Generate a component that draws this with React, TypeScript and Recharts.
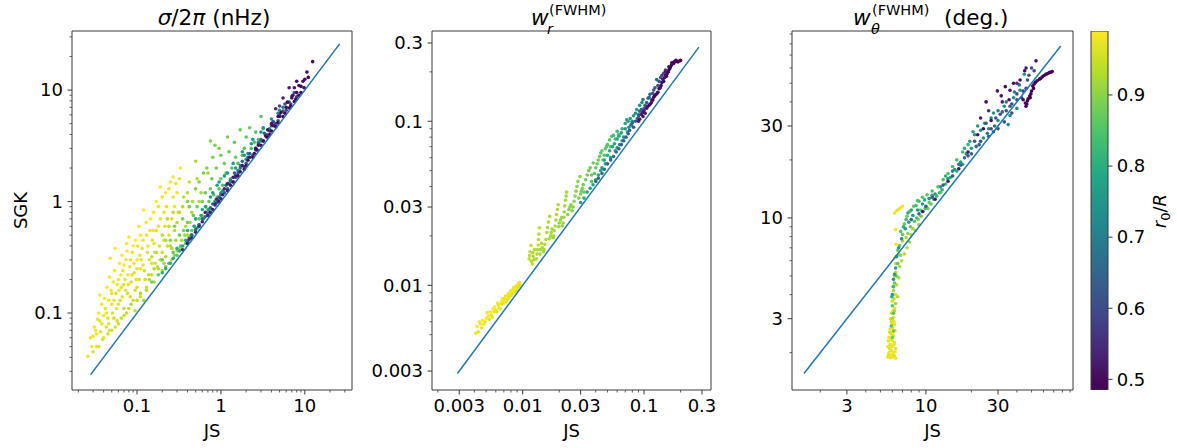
import React from "react";
import { ScatterChart, Scatter, XAxis, YAxis, ReferenceArea, BarChart, Bar } from "recharts";

const FONT = "'DejaVu Sans', sans-serif";
const AXIS = "#3a3a3a";
const DIAG = "#1f77b4";

// colour range of r0/R (colorbar limits)
const C_MIN = 0.485;
const C_MAX = 0.99;
const VIRIDIS = [
  "#440154", "#482475", "#414487", "#355f8d", "#2a788e", "#21918c",
  "#22a884", "#44bf70", "#7ad151", "#bddf26", "#fde725",
];

function hexToRgb(h: string) {
  return [1, 3, 5].map((i) => parseInt(h.slice(i, i + 2), 16));
}

function viridis(c: number) {
  let t = (c - C_MIN) / (C_MAX - C_MIN);
  t = Math.max(0, Math.min(1, t));
  const pos = t * (VIRIDIS.length - 1);
  const i = Math.min(Math.floor(pos), VIRIDIS.length - 2);
  const f = pos - i;
  const a = hexToRgb(VIRIDIS[i]);
  const b = hexToRgb(VIRIDIS[i + 1]);
  const m = a.map((v, k) => Math.round(v + (b[k] - v) * f));
  return `rgb(${m[0]},${m[1]},${m[2]})`;
}

// ---- sigma/2pi (nHz): [JS, SGK, r0/R] ----
const sigmaYellow: number[][] = [
  [0.026, 0.041, 0.98], [0.029, 0.05, 0.99], [0.03, 0.062, 0.98], [0.031, 0.075, 0.99], [0.033, 0.05, 0.97],
  [0.034, 0.088, 0.98], [0.035, 0.1, 0.99], [0.036, 0.145, 0.99], [0.037, 0.068, 0.97], [0.038, 0.12, 0.98],
  [0.039, 0.058, 0.96], [0.04, 0.095, 0.98], [0.041, 0.135, 0.99], [0.042, 0.11, 0.97], [0.043, 0.075, 0.96],
  [0.044, 0.17, 0.99], [0.045, 0.09, 0.97], [0.046, 0.13, 0.98], [0.047, 0.21, 0.99], [0.048, 0.31, 0.99],
  [0.049, 0.16, 0.98], [0.05, 0.12, 0.97], [0.051, 0.1, 0.96], [0.052, 0.19, 0.98], [0.054, 0.24, 0.99],
  [0.055, 0.38, 0.99], [0.056, 0.15, 0.97], [0.058, 0.085, 0.95], [0.06, 0.2, 0.98], [0.062, 0.28, 0.99],
  [0.063, 0.13, 0.96], [0.065, 0.17, 0.97], [0.066, 0.33, 0.99], [0.068, 0.24, 0.98], [0.07, 0.11, 0.95],
  [0.072, 0.2, 0.97], [0.074, 0.3, 0.98], [0.075, 0.42, 0.99], [0.077, 0.15, 0.96], [0.08, 0.48, 0.99],
  [0.082, 0.26, 0.98], [0.085, 0.19, 0.96], [0.088, 0.35, 0.98], [0.09, 0.13, 0.95], [0.093, 0.23, 0.97],
  [0.096, 0.45, 0.99], [0.1, 0.3, 0.98], [0.1, 0.17, 0.96], [0.105, 0.6, 0.99], [0.11, 0.25, 0.97],
  [0.115, 0.38, 0.98], [0.12, 0.84, 0.99], [0.125, 0.2, 0.95], [0.13, 0.5, 0.98], [0.14, 0.3, 0.97],
  [0.145, 0.7, 0.99], [0.15, 0.22, 0.95], [0.16, 0.42, 0.97], [0.17, 1.0, 0.99], [0.18, 0.6, 0.98],
  [0.19, 1.35, 0.99], [0.2, 0.35, 0.96], [0.21, 0.8, 0.98], [0.22, 1.2, 0.99], [0.24, 0.5, 0.97],
  [0.25, 1.5, 0.99], [0.27, 1.66, 0.99], [0.28, 0.9, 0.98], [0.3, 1.2, 0.98], [0.33, 2.0, 0.99],
  [0.13, 0.17, 0.95], [0.11, 0.14, 0.95], [0.032, 0.07, 0.98], [0.036, 0.085, 0.97], [0.047, 0.07, 0.96],
  [0.053, 0.09, 0.96], [0.057, 0.11, 0.97], [0.061, 0.16, 0.98], [0.069, 0.18, 0.97], [0.078, 0.22, 0.98],
  [0.083, 0.14, 0.96], [0.092, 0.28, 0.98], [0.098, 0.2, 0.97], [0.108, 0.33, 0.98], [0.118, 0.27, 0.97],
  [0.135, 0.4, 0.98], [0.155, 0.55, 0.98], [0.165, 0.28, 0.96], [0.23, 0.7, 0.98],
  [0.035, 0.05, 0.97], [0.04, 0.06, 0.97], [0.045, 0.065, 0.96], [0.05, 0.07, 0.96], [0.055, 0.075, 0.95],
  [0.06, 0.08, 0.95], [0.065, 0.09, 0.95], [0.07, 0.095, 0.95], [0.075, 0.1, 0.95], [0.08, 0.11, 0.95],
  [0.03, 0.045, 0.97], [0.028, 0.06, 0.98], [0.033, 0.065, 0.98], [0.038, 0.08, 0.98], [0.043, 0.1, 0.98],
  [0.046, 0.08, 0.97], [0.05, 0.15, 0.98], [0.053, 0.13, 0.98], [0.058, 0.18, 0.98], [0.06, 0.12, 0.97],
  [0.064, 0.22, 0.99], [0.067, 0.14, 0.97], [0.07, 0.27, 0.99], [0.073, 0.16, 0.97], [0.076, 0.36, 0.99],
  [0.079, 0.18, 0.97], [0.084, 0.3, 0.98], [0.087, 0.22, 0.97], [0.09, 0.4, 0.99], [0.095, 0.16, 0.96],
  [0.1, 0.25, 0.97], [0.102, 0.4, 0.98], [0.106, 0.2, 0.96], [0.11, 0.5, 0.99], [0.112, 0.3, 0.97],
  [0.118, 0.45, 0.98], [0.122, 0.24, 0.96], [0.128, 0.65, 0.99], [0.133, 0.35, 0.97], [0.138, 0.22, 0.95],
  [0.142, 0.55, 0.98], [0.15, 0.28, 0.96], [0.152, 0.45, 0.97], [0.158, 0.8, 0.99], [0.163, 0.35, 0.96],
  [0.17, 0.55, 0.97], [0.175, 0.26, 0.95], [0.18, 0.9, 0.98], [0.185, 0.4, 0.96], [0.19, 0.7, 0.97],
  [0.2, 1.1, 0.98], [0.21, 0.45, 0.96], [0.215, 0.6, 0.97], [0.225, 0.9, 0.97], [0.23, 0.4, 0.95],
  [0.24, 1.3, 0.98], [0.26, 0.7, 0.96], [0.27, 1.1, 0.97], [0.29, 1.45, 0.98], [0.31, 0.8, 0.96],
  [0.32, 1.6, 0.98],
];
const sigmaYellowGreen: number[][] = [
  [0.085, 0.12, 0.93], [0.095, 0.105, 0.94], [0.11, 0.15, 0.93], [0.12, 0.13, 0.92], [0.14, 0.2, 0.93],
  [0.15, 0.32, 0.94], [0.16, 0.19, 0.92], [0.18, 0.25, 0.93], [0.2, 0.5, 0.94], [0.2, 0.24, 0.92],
  [0.22, 0.32, 0.93], [0.23, 0.7, 0.94], [0.25, 0.4, 0.93], [0.26, 0.3, 0.92], [0.28, 0.55, 0.93],
  [0.3, 0.36, 0.92], [0.32, 0.8, 0.94], [0.34, 0.45, 0.93], [0.36, 1.1, 0.94], [0.38, 0.6, 0.93],
  [0.4, 0.5, 0.92], [0.42, 1.5, 0.94], [0.45, 0.8, 0.93], [0.48, 0.6, 0.92], [0.5, 2.3, 0.93],
  [0.55, 1.0, 0.93], [0.6, 0.75, 0.92],
  [0.1, 0.13, 0.94], [0.13, 0.16, 0.93], [0.16, 0.25, 0.93], [0.17, 0.35, 0.94], [0.19, 0.3, 0.93],
  [0.21, 0.28, 0.92], [0.22, 0.45, 0.93], [0.24, 0.6, 0.94], [0.26, 0.38, 0.92], [0.27, 0.8, 0.94],
  [0.29, 0.45, 0.92], [0.3, 0.65, 0.93], [0.33, 0.38, 0.91], [0.35, 0.9, 0.93], [0.37, 0.5, 0.92],
  [0.4, 1.2, 0.93], [0.43, 0.65, 0.92], [0.46, 1.0, 0.92], [0.5, 0.7, 0.91], [0.52, 1.6, 0.93],
  [0.58, 1.2, 0.92], [0.65, 0.9, 0.91], [0.7, 1.8, 0.92], [0.28, 0.33, 0.91], [0.4, 0.44, 0.91],
];
const sigmaGreen: number[][] = [
  [0.15, 0.19, 0.88], [0.18, 0.22, 0.87], [0.2, 0.3, 0.88], [0.24, 0.28, 0.86], [0.25, 0.45, 0.89],
  [0.3, 0.33, 0.86], [0.32, 0.5, 0.88], [0.35, 0.7, 0.89], [0.38, 0.42, 0.86], [0.42, 0.9, 0.88],
  [0.45, 0.55, 0.87], [0.5, 1.3, 0.89], [0.55, 0.7, 0.86], [0.6, 1.0, 0.88], [0.62, 1.8, 0.89],
  [0.7, 0.85, 0.86], [0.75, 1.3, 0.88], [0.8, 2.5, 0.89], [0.85, 3.2, 0.89], [0.9, 1.1, 0.86],
  [1.0, 1.6, 0.87], [1.1, 2.2, 0.88], [1.2, 3.8, 0.89], [1.3, 1.6, 0.86], [1.5, 2.5, 0.87],
  [1.7, 4.4, 0.88], [1.9, 3.0, 0.86], [2.2, 4.6, 0.87], [2.5, 3.4, 0.85], [3.0, 5.8, 0.86],
  [0.22, 0.26, 0.88], [0.27, 0.35, 0.87], [0.28, 0.6, 0.89], [0.33, 0.4, 0.87], [0.36, 0.55, 0.88],
  [0.4, 0.65, 0.88], [0.4, 1.0, 0.89], [0.44, 0.5, 0.86], [0.47, 0.75, 0.87], [0.52, 0.9, 0.88],
  [0.55, 1.5, 0.89], [0.6, 0.7, 0.86], [0.65, 1.2, 0.87], [0.68, 2.0, 0.89], [0.72, 1.0, 0.86],
  [0.78, 1.6, 0.87], [0.82, 1.15, 0.85], [0.88, 2.0, 0.88], [0.95, 1.3, 0.85], [1.0, 2.6, 0.88],
  [1.05, 1.4, 0.85], [1.15, 1.8, 0.86], [1.25, 2.8, 0.87], [1.35, 2.0, 0.85], [1.45, 3.4, 0.87],
  [1.6, 2.2, 0.85], [1.8, 2.6, 0.85], [2.0, 3.8, 0.86], [2.3, 3.0, 0.84], [2.6, 4.2, 0.85],
  [2.8, 3.6, 0.84], [3.2, 4.5, 0.84], [0.75, 3.5, 0.9], [0.95, 3.0, 0.89],
];
const sigmaTeal: number[][] = [
  [0.2, 0.23, 0.8], [0.25, 0.28, 0.79], [0.3, 0.38, 0.8], [0.35, 0.4, 0.78], [0.4, 0.55, 0.8],
  [0.45, 0.5, 0.77], [0.5, 0.7, 0.79], [0.55, 0.62, 0.76], [0.6, 0.85, 0.79], [0.7, 0.8, 0.76],
  [0.75, 1.1, 0.78], [0.85, 1.0, 0.75], [0.9, 1.4, 0.78], [1.0, 1.2, 0.75], [1.1, 1.7, 0.77],
  [1.3, 1.5, 0.74], [1.4, 2.2, 0.77], [1.6, 1.9, 0.74], [1.8, 2.8, 0.77], [2.0, 2.4, 0.74],
  [2.3, 3.3, 0.76], [2.6, 3.0, 0.73], [3.0, 4.2, 0.75], [3.5, 4.0, 0.72], [4.0, 5.5, 0.74],
  [4.5, 5.0, 0.72], [5.0, 6.6, 0.73],
  [0.22, 0.25, 0.8], [0.27, 0.31, 0.79], [0.32, 0.36, 0.79], [0.38, 0.45, 0.78], [0.42, 0.47, 0.77],
  [0.48, 0.6, 0.78], [0.52, 0.58, 0.76], [0.58, 0.75, 0.78], [0.62, 0.7, 0.76], [0.66, 0.9, 0.78],
  [0.72, 0.85, 0.75], [0.8, 1.2, 0.77], [0.88, 1.05, 0.75], [0.95, 1.5, 0.77], [1.05, 1.25, 0.74],
  [1.2, 1.8, 0.76], [1.25, 1.45, 0.74], [1.5, 2.0, 0.75], [1.7, 2.1, 0.74], [1.9, 2.6, 0.75],
  [2.1, 2.7, 0.74], [2.4, 3.6, 0.75], [2.8, 3.4, 0.73], [3.2, 4.6, 0.74], [3.8, 4.5, 0.72],
  [4.2, 5.2, 0.73], [4.8, 6.2, 0.72], [5.5, 7.0, 0.71], [3.0, 3.5, 0.72], [2.2, 2.5, 0.73],
];
const sigmaBlue: number[][] = [
  [0.4, 0.44, 0.66], [0.5, 0.56, 0.65], [0.6, 0.7, 0.67], [0.7, 0.76, 0.64], [0.8, 0.95, 0.66],
  [0.9, 0.98, 0.63], [1.0, 1.15, 0.65], [1.2, 1.3, 0.63], [1.3, 1.55, 0.66], [1.5, 1.65, 0.62],
  [1.7, 2.0, 0.65], [2.0, 2.2, 0.62], [2.2, 2.7, 0.64], [2.6, 2.9, 0.61], [3.0, 3.6, 0.64],
  [3.5, 3.8, 0.6], [4.0, 4.8, 0.63], [4.5, 5.0, 0.6], [5.0, 6.0, 0.62], [6.0, 6.6, 0.6],
  [6.5, 7.8, 0.62], [7.0, 8.8, 0.61],
  [0.45, 0.5, 0.66], [0.55, 0.62, 0.66], [0.65, 0.73, 0.65], [0.75, 0.88, 0.65], [0.85, 0.93, 0.64],
  [0.95, 1.1, 0.65], [1.1, 1.2, 0.63], [1.15, 1.4, 0.65], [1.4, 1.5, 0.62], [1.45, 1.8, 0.64],
  [1.6, 1.8, 0.62], [1.8, 2.3, 0.64], [1.9, 2.05, 0.61], [2.1, 2.5, 0.63], [2.4, 2.6, 0.6],
  [2.8, 3.3, 0.62], [3.2, 3.5, 0.6], [3.3, 4.1, 0.63], [3.8, 4.3, 0.6], [4.2, 5.2, 0.62],
  [4.8, 5.3, 0.59], [5.5, 6.5, 0.61], [5.8, 7.5, 0.62], [6.8, 7.5, 0.59], [7.5, 9.5, 0.6],
  [8.0, 8.7, 0.58], [5.0, 7.2, 0.6],
];
const sigmaPurple: number[][] = [
  [0.5, 0.53, 0.54], [0.6, 0.66, 0.53], [0.65, 0.8, 0.55], [0.8, 0.85, 0.52], [0.9, 1.05, 0.54],
  [1.0, 1.06, 0.51], [1.1, 1.3, 0.54], [1.3, 1.4, 0.51], [1.5, 1.7, 0.53], [1.6, 1.7, 0.5],
  [1.8, 2.1, 0.53], [2.0, 2.1, 0.5], [2.2, 2.5, 0.52], [2.5, 2.7, 0.5], [2.8, 3.2, 0.52],
  [3.0, 3.2, 0.49], [3.4, 3.9, 0.52], [3.8, 4.0, 0.49], [4.2, 4.8, 0.51], [4.5, 4.7, 0.49],
  [5.0, 5.8, 0.51], [5.5, 5.8, 0.49], [6.0, 7.0, 0.51], [6.5, 6.9, 0.49], [7.0, 8.5, 0.51],
  [7.5, 7.9, 0.49], [8.0, 9.5, 0.5], [8.5, 11, 0.51], [9.0, 9.5, 0.49], [9.5, 12, 0.5],
  [10.6, 14.5, 0.5], [12.4, 18.0, 0.5], [6.5, 10.5, 0.52], [5.5, 8.5, 0.53], [4.5, 6.8, 0.54],
  [0.55, 0.6, 0.54], [0.7, 0.75, 0.53], [0.75, 0.8, 0.52], [0.85, 0.95, 0.53], [0.95, 1.0, 0.51],
  [1.05, 1.15, 0.52], [1.2, 1.25, 0.5], [1.2, 1.45, 0.53], [1.4, 1.5, 0.5], [1.4, 1.65, 0.53],
  [1.7, 1.85, 0.51], [1.9, 1.95, 0.49], [2.1, 2.35, 0.51], [2.4, 2.5, 0.49], [2.6, 3.0, 0.51],
  [2.7, 2.9, 0.49], [3.2, 3.5, 0.5], [3.6, 3.8, 0.49], [3.6, 4.4, 0.51], [4.0, 4.3, 0.49],
  [4.0, 5.0, 0.51], [4.8, 5.1, 0.49], [4.8, 5.8, 0.5], [5.2, 6.3, 0.5], [5.8, 6.2, 0.49],
  [6.2, 7.8, 0.5], [6.8, 7.2, 0.49], [7.2, 9.0, 0.5], [7.8, 8.3, 0.49], [8.5, 9.0, 0.49],
  [9.0, 10.8, 0.5], [9.8, 10.5, 0.49], [10.0, 12.5, 0.5], [11.0, 13.0, 0.5], [7.5, 10.5, 0.51],
  [8.0, 12.0, 0.5], [0.35, 0.37, 0.53], [0.4, 0.42, 0.52], [0.45, 0.47, 0.53], [0.42, 0.46, 0.55],
];

// ---- w_r (FWHM): [JS, SGK, r0/R] ----
const wrYellow: number[][] = [
  [0.0041, 0.0051, 0.98], [0.0042, 0.0056, 0.99], [0.0044, 0.006, 0.98], [0.0046, 0.0055, 0.97], [0.0048, 0.0058, 0.98],
  [0.005, 0.0063, 0.99], [0.0051, 0.0068, 0.98], [0.0053, 0.0062, 0.97], [0.0055, 0.0066, 0.98], [0.0057, 0.0072, 0.99],
  [0.0058, 0.0069, 0.97], [0.006, 0.0071, 0.98], [0.0062, 0.0078, 0.99], [0.0064, 0.0073, 0.97], [0.0066, 0.0077, 0.98],
  [0.0068, 0.0083, 0.99], [0.007, 0.0079, 0.97], [0.0072, 0.0086, 0.98], [0.0074, 0.0082, 0.97], [0.0076, 0.0089, 0.98],
  [0.0078, 0.0086, 0.97], [0.008, 0.0093, 0.98], [0.0082, 0.0089, 0.97], [0.0084, 0.0097, 0.98], [0.0086, 0.0092, 0.97],
  [0.0088, 0.0099, 0.98], [0.009, 0.0096, 0.97], [0.0092, 0.0102, 0.98], [0.0094, 0.0104, 0.98], [0.0093, 0.0098, 0.97],
  [0.0043, 0.0052, 0.97], [0.0045, 0.0058, 0.98], [0.0047, 0.0061, 0.99], [0.0049, 0.006, 0.98], [0.0052, 0.0065, 0.98],
  [0.0054, 0.0069, 0.99], [0.0056, 0.0064, 0.97], [0.0059, 0.0074, 0.99], [0.0061, 0.0069, 0.97], [0.0063, 0.0076, 0.98],
  [0.0065, 0.0072, 0.97], [0.0067, 0.008, 0.99], [0.0069, 0.0077, 0.97], [0.0071, 0.0083, 0.98], [0.0073, 0.0079, 0.97],
  [0.0075, 0.0086, 0.98], [0.0077, 0.0083, 0.97], [0.0079, 0.009, 0.98], [0.0081, 0.0087, 0.97], [0.0083, 0.0094, 0.98],
  [0.0085, 0.009, 0.97], [0.0087, 0.0096, 0.98], [0.0089, 0.0093, 0.97], [0.0091, 0.01, 0.98], [0.0095, 0.0101, 0.97],
];
const wrYellowGreen: number[][] = [
  [0.0113, 0.0145, 0.94], [0.0115, 0.016, 0.94], [0.0117, 0.0175, 0.94], [0.012, 0.0135, 0.93], [0.0122, 0.015, 0.93], [0.0125, 0.0165, 0.93],
  [0.013, 0.0145, 0.93], [0.0132, 0.0165, 0.93], [0.0135, 0.019, 0.94], [0.0137, 0.0224, 0.94], [0.014, 0.0165, 0.92], [0.0143, 0.018, 0.93],
  [0.015, 0.0165, 0.92], [0.0155, 0.019, 0.93], [0.016, 0.0225, 0.93], [0.0167, 0.0263, 0.93], [0.017, 0.02, 0.92], [0.0175, 0.022, 0.92],
  [0.018, 0.02, 0.92], [0.0185, 0.023, 0.92], [0.019, 0.027, 0.93], [0.0196, 0.031, 0.93], [0.02, 0.024, 0.91], [0.021, 0.026, 0.91],
  [0.0215, 0.024, 0.91], [0.022, 0.028, 0.91], [0.0225, 0.033, 0.92], [0.023, 0.037, 0.92], [0.024, 0.029, 0.9], [0.025, 0.031, 0.9],
  [0.026, 0.03, 0.89], [0.027, 0.035, 0.9], [0.028, 0.04, 0.9], [0.0296, 0.046, 0.9], [0.03, 0.036, 0.89], [0.031, 0.039, 0.89],
  [0.0114, 0.0152, 0.94], [0.0118, 0.014, 0.93], [0.0121, 0.0158, 0.93], [0.0124, 0.0143, 0.92], [0.0131, 0.0155, 0.93],
  [0.0134, 0.0176, 0.94], [0.0136, 0.0205, 0.94], [0.0139, 0.0155, 0.92], [0.0145, 0.017, 0.93], [0.0148, 0.016, 0.92],
  [0.0152, 0.0178, 0.93], [0.0158, 0.021, 0.93], [0.0163, 0.0243, 0.93], [0.0165, 0.0192, 0.92], [0.0172, 0.021, 0.92],
  [0.0178, 0.0195, 0.91], [0.0182, 0.0215, 0.92], [0.0188, 0.025, 0.92], [0.0193, 0.029, 0.93], [0.0198, 0.0228, 0.91],
  [0.0205, 0.025, 0.91], [0.0212, 0.023, 0.9], [0.0218, 0.026, 0.91], [0.0222, 0.0305, 0.92], [0.0228, 0.035, 0.92],
  [0.0235, 0.027, 0.9], [0.0245, 0.03, 0.9], [0.0255, 0.0285, 0.89], [0.0265, 0.0325, 0.9], [0.0275, 0.0375, 0.9],
  [0.0285, 0.043, 0.9], [0.029, 0.034, 0.89], [0.0305, 0.0375, 0.88],
];
const wrGreen: number[][] = [
  [0.032, 0.037, 0.87], [0.033, 0.044, 0.88], [0.035, 0.05, 0.88], [0.0381, 0.0557, 0.88], [0.037, 0.043, 0.86],
  [0.039, 0.048, 0.86], [0.04, 0.052, 0.87], [0.042, 0.058, 0.87], [0.044, 0.064, 0.86], [0.046, 0.058, 0.85],
  [0.048, 0.068, 0.86], [0.05, 0.072, 0.85], [0.0541, 0.081, 0.85],
  [0.0315, 0.041, 0.88], [0.034, 0.047, 0.88], [0.036, 0.052, 0.88], [0.037, 0.047, 0.87], [0.041, 0.055, 0.87],
  [0.043, 0.061, 0.87], [0.045, 0.066, 0.87], [0.047, 0.062, 0.85], [0.049, 0.07, 0.86], [0.052, 0.077, 0.86],
  [0.053, 0.07, 0.84], [0.056, 0.082, 0.84], [0.058, 0.078, 0.83], [0.06, 0.087, 0.83], [0.062, 0.083, 0.82],
];
const wrTeal: number[][] = [
  [0.03, 0.032, 0.78], [0.034, 0.037, 0.78], [0.038, 0.041, 0.77], [0.042, 0.047, 0.78], [0.045, 0.052, 0.79],
  [0.048, 0.055, 0.77], [0.05, 0.062, 0.79], [0.053, 0.06, 0.76], [0.055, 0.07, 0.79], [0.058, 0.066, 0.76],
  [0.06, 0.078, 0.78], [0.063, 0.072, 0.75], [0.065, 0.085, 0.78], [0.068, 0.08, 0.75], [0.072, 0.102, 0.77],
  [0.07, 0.09, 0.76], [0.075, 0.092, 0.74], [0.08, 0.1, 0.75], [0.085, 0.112, 0.75], [0.09, 0.11, 0.73],
  [0.032, 0.034, 0.79], [0.036, 0.039, 0.78], [0.04, 0.044, 0.78], [0.044, 0.05, 0.78], [0.047, 0.058, 0.79],
  [0.052, 0.066, 0.79], [0.057, 0.073, 0.79], [0.062, 0.081, 0.79], [0.066, 0.09, 0.8], [0.07, 0.097, 0.79],
  [0.074, 0.1, 0.78], [0.077, 0.104, 0.77], [0.082, 0.108, 0.76], [0.087, 0.118, 0.76], [0.092, 0.125, 0.75],
  [0.096, 0.13, 0.74], [0.06, 0.069, 0.76], [0.066, 0.076, 0.75], [0.073, 0.086, 0.74], [0.079, 0.095, 0.73],
];
const wrBlue: number[][] = [
  [0.04, 0.043, 0.66], [0.045, 0.048, 0.66], [0.05, 0.055, 0.65], [0.056, 0.061, 0.65], [0.062, 0.068, 0.64],
  [0.068, 0.076, 0.64], [0.074, 0.084, 0.63], [0.078, 0.095, 0.66], [0.082, 0.092, 0.62], [0.088, 0.104, 0.64],
  [0.092, 0.115, 0.66], [0.098, 0.1355, 0.68], [0.1, 0.12, 0.64], [0.105, 0.13, 0.64], [0.11, 0.14, 0.65],
  [0.115, 0.135, 0.62], [0.12, 0.155, 0.63], [0.127, 0.1795, 0.66], [0.13, 0.165, 0.62], [0.14, 0.19, 0.6],
  [0.042, 0.045, 0.66], [0.047, 0.051, 0.66], [0.053, 0.058, 0.65], [0.059, 0.065, 0.65], [0.065, 0.072, 0.64],
  [0.071, 0.08, 0.64], [0.076, 0.088, 0.64], [0.08, 0.098, 0.65], [0.085, 0.1, 0.63], [0.09, 0.108, 0.63],
  [0.095, 0.118, 0.63], [0.102, 0.125, 0.63], [0.108, 0.138, 0.64], [0.112, 0.146, 0.65], [0.118, 0.148, 0.62],
  [0.123, 0.16, 0.62], [0.133, 0.175, 0.62], [0.137, 0.185, 0.6], [0.145, 0.196, 0.59], [0.15, 0.205, 0.58],
];
const wrPurple: number[][] = [
  [0.09, 0.1, 0.53], [0.095, 0.11, 0.53], [0.098, 0.107, 0.52], [0.1, 0.116, 0.52], [0.105, 0.12, 0.52],
  [0.11, 0.125, 0.51], [0.115, 0.13, 0.51], [0.12, 0.14, 0.51], [0.125, 0.145, 0.5], [0.13, 0.15, 0.5],
  [0.136, 0.16, 0.5], [0.14, 0.172, 0.52], [0.145, 0.175, 0.5], [0.15, 0.19, 0.51], [0.155, 0.195, 0.5],
  [0.16, 0.205, 0.5], [0.165, 0.215, 0.5], [0.169, 0.227, 0.51], [0.175, 0.225, 0.5], [0.18, 0.232, 0.5],
  [0.186, 0.232, 0.49], [0.19, 0.23, 0.49], [0.2, 0.235, 0.49], [0.15, 0.2, 0.53], [0.16, 0.215, 0.53],
  [0.092, 0.103, 0.52], [0.097, 0.113, 0.52], [0.102, 0.112, 0.51], [0.107, 0.123, 0.51], [0.112, 0.127, 0.5],
  [0.118, 0.135, 0.5], [0.122, 0.143, 0.5], [0.128, 0.148, 0.5], [0.133, 0.158, 0.5], [0.138, 0.165, 0.5],
  [0.143, 0.18, 0.51], [0.148, 0.185, 0.5], [0.153, 0.188, 0.49], [0.158, 0.2, 0.49], [0.163, 0.21, 0.49],
  [0.168, 0.22, 0.49], [0.172, 0.228, 0.5], [0.178, 0.23, 0.49], [0.183, 0.235, 0.49], [0.195, 0.233, 0.49],
];

// ---- w_theta (FWHM), deg.: [JS, SGK, r0/R] ----
const wthYellow: number[][] = [
  [5.6, 1.9, 0.97], [5.8, 1.88, 0.98], [6.0, 1.9, 0.98], [6.2, 1.92, 0.97], [6.3, 1.87, 0.98],
  [5.7, 2.0, 0.98], [5.9, 2.05, 0.97], [6.1, 2.0, 0.98], [6.3, 2.1, 0.97], [5.6, 2.15, 0.98],
  [5.8, 2.2, 0.97], [6.0, 2.3, 0.98], [6.2, 2.25, 0.97], [5.7, 2.4, 0.98], [5.9, 2.5, 0.96],
  [6.1, 2.45, 0.97], [5.8, 2.65, 0.97], [6.0, 2.7, 0.96], [6.2, 2.8, 0.97], [5.9, 2.9, 0.96],
  [6.1, 3.05, 0.97], [5.9, 3.2, 0.96], [6.2, 3.4, 0.97], [6.0, 3.7, 0.96], [6.3, 4.0, 0.96],
  [6.2, 6.2, 0.97], [6.35, 7.3, 0.98], [6.3, 8.7, 0.98], [6.2, 10.6, 0.98], [6.4, 10.9, 0.98],
  [6.6, 11.1, 0.98], [6.8, 11.3, 0.98], [7.0, 11.5, 0.98],
  [5.65, 1.95, 0.97], [5.85, 1.93, 0.98], [6.05, 1.96, 0.97], [6.25, 2.02, 0.98], [5.75, 2.1, 0.97],
  [5.95, 2.15, 0.98], [6.15, 2.2, 0.97], [5.65, 2.3, 0.97], [5.85, 2.35, 0.98], [6.05, 2.55, 0.97],
  [6.25, 2.6, 0.97], [5.75, 2.55, 0.96], [5.95, 2.8, 0.96], [6.15, 2.9, 0.97], [5.85, 3.0, 0.96],
  [6.05, 3.3, 0.96], [6.15, 3.8, 0.95], [6.05, 4.4, 0.95], [6.2, 5.0, 0.95], [6.3, 5.8, 0.95],
];
const wthYellowGreen: number[][] = [
  [6.0, 3.0, 0.92], [6.2, 3.3, 0.93], [6.3, 3.6, 0.92], [6.5, 3.9, 0.93], [6.1, 4.2, 0.92],
  [6.4, 4.5, 0.93], [6.6, 4.9, 0.93], [6.3, 5.2, 0.92], [6.7, 5.6, 0.93], [6.9, 6.0, 0.93],
  [7.2, 6.5, 0.93], [7.5, 7.0, 0.93], [7.8, 7.5, 0.92], [7.4, 7.9, 0.92], [8.0, 8.2, 0.92],
  [8.5, 8.6, 0.92], [9.0, 9.2, 0.91], [7.0, 7.6, 0.92], [6.6, 6.5, 0.93],
  [7.6, 8.3, 0.9], [8.2, 8.8, 0.92], [8.9, 9.8, 0.9], [6.8, 6.4, 0.9],
];
const wthGreen: number[][] = [
  [6.1, 2.6, 0.87], [6.0, 3.5, 0.86], [6.2, 4.6, 0.87], [6.5, 5.8, 0.86], [6.7, 7.2, 0.87],
  [7.0, 8.2, 0.87], [7.2, 9.3, 0.86], [7.5, 10.2, 0.87], [7.8, 10.8, 0.86], [8.3, 11.5, 0.86],
  [8.8, 12.3, 0.86], [9.5, 12.8, 0.85], [10.2, 13.2, 0.86], [11.0, 13.8, 0.85], [12.0, 14.5, 0.86],
  [13.0, 15.8, 0.85], [14.0, 17.0, 0.85], [15.0, 18.5, 0.84], [16.0, 20.0, 0.84], [17.5, 22.0, 0.83],
  [19.0, 24.0, 0.82], [10.5, 12.0, 0.87], [12.5, 13.6, 0.86], [9.2, 11.0, 0.87],
  [6.0, 2.4, 0.88], [5.9, 2.75, 0.86], [6.1, 3.2, 0.85], [6.35, 5.0, 0.86], [6.5, 6.8, 0.88],
  [6.8, 8.5, 0.85], [7.9, 9.0, 0.88], [8.4, 9.6, 0.86], [9.3, 10.2, 0.88], [9.6, 10.8, 0.86],
  [10.3, 11.2, 0.88], [10.8, 11.8, 0.86], [9.0, 12.2, 0.84], [8.6, 11.6, 0.82], [18.0, 23.0, 0.78],
  [19.5, 25.0, 0.77], [8.7, 10.0, 0.84], [9.9, 11.2, 0.84], [11.3, 12.5, 0.84],
];
const wthTeal: number[][] = [
  [6.0, 4.0, 0.76], [6.1, 4.8, 0.75], [6.3, 5.5, 0.76], [6.4, 6.3, 0.75], [6.6, 7.0, 0.76],
  [6.9, 7.8, 0.75], [7.3, 8.8, 0.76], [7.7, 9.5, 0.75], [8.2, 10.3, 0.76], [8.8, 11.0, 0.75],
  [9.5, 11.8, 0.76], [10.5, 12.6, 0.75], [11.5, 13.3, 0.76], [12.5, 14.5, 0.75], [14.0, 16.0, 0.76],
  [15.5, 17.8, 0.75], [17.0, 19.5, 0.76], [18.5, 21.5, 0.75], [20.0, 23.0, 0.76], [20.5, 28.0, 0.77],
  [22.0, 30.0, 0.76], [24.0, 26.0, 0.75], [26.0, 29.0, 0.74], [28.0, 35.0, 0.75], [30.0, 32.0, 0.73],
  [33.0, 38.0, 0.74], [36.0, 34.0, 0.73], [38.0, 42.0, 0.73], [40.0, 37.0, 0.72], [44.8, 55.7, 0.74],
  [42.0, 46.0, 0.72], [35.0, 30.5, 0.73],
  [5.95, 3.9, 0.8], [6.1, 4.4, 0.82], [6.2, 5.1, 0.78], [7.1, 9.0, 0.8], [7.4, 9.8, 0.82],
  [11.8, 13.0, 0.82], [12.3, 13.5, 0.83], [12.8, 14.0, 0.8], [13.5, 15.0, 0.82], [14.5, 16.2, 0.8],
  [16.0, 17.5, 0.79], [17.5, 19.0, 0.78], [7.6, 10.6, 0.8], [8.0, 11.0, 0.78], [9.8, 12.4, 0.8],
  [11.0, 13.1, 0.78], [13.5, 16.5, 0.8], [21.0, 27.0, 0.76], [23.0, 28.5, 0.74], [24.5, 31.0, 0.75],
  [27.0, 33.0, 0.72], [30.0, 36.0, 0.7], [34.0, 40.0, 0.7], [38.5, 45.0, 0.7], [41.5, 49.0, 0.68],
];
const wthBlue: number[][] = [
  [8.0, 9.8, 0.63], [9.0, 10.5, 0.64], [10.0, 11.5, 0.63], [11.0, 12.8, 0.64], [13.0, 14.8, 0.63],
  [15.0, 16.5, 0.62], [17.0, 18.8, 0.63], [19.0, 21.0, 0.62], [21.0, 25.0, 0.63], [23.0, 25.0, 0.61],
  [25.0, 31.0, 0.63], [27.0, 29.0, 0.61], [29.0, 33.0, 0.62], [31.0, 34.5, 0.61], [34.0, 36.0, 0.6],
  [37.0, 39.0, 0.6], [40.0, 44.0, 0.61], [43.0, 42.0, 0.59], [46.0, 47.0, 0.6], [48.0, 55.0, 0.61],
  [50.0, 60.0, 0.6],
  [15.0, 17.5, 0.7], [16.5, 19.0, 0.68], [18.0, 20.5, 0.67], [21.5, 23.5, 0.66], [25.5, 27.5, 0.68],
  [28.5, 30.0, 0.66], [32.0, 35.5, 0.65], [36.0, 38.0, 0.64], [40.0, 41.0, 0.6], [44.0, 45.5, 0.58],
  [47.0, 52.0, 0.62], [52.0, 58.0, 0.6], [30.0, 29.0, 0.62], [33.0, 31.5, 0.62], [37.0, 35.0, 0.6],
  [20.0, 21.5, 0.65], [22.5, 24.0, 0.64], [26.0, 26.5, 0.63], [28.0, 28.0, 0.62],
];
const wthPurple: number[][] = [
  [9.5, 10.8, 0.53], [11.5, 12.5, 0.52], [14.0, 15.5, 0.52], [16.5, 18.0, 0.51], [19.0, 22.0, 0.51],
  [22.0, 27.0, 0.51], [24.0, 29.0, 0.5], [27.0, 32.0, 0.5], [29.7, 45.6, 0.52], [31.5, 43.0, 0.51],
  [33.5, 48.0, 0.51], [35.5, 41.0, 0.5], [38.0, 50.0, 0.5], [42.0, 52.0, 0.5], [45.0, 58.0, 0.5],
  [53.5, 65.3, 0.51], [45.9, 38.0, 0.49], [47.0, 40.5, 0.49], [48.6, 42.9, 0.49], [50.0, 45.5, 0.49],
  [50.9, 48.4, 0.49], [53.0, 50.5, 0.49], [56.3, 52.5, 0.49], [59.0, 54.0, 0.49], [62.2, 55.6, 0.49],
  [65.0, 56.5, 0.49], [67.2, 57.0, 0.49], [46.5, 39.0, 0.49], [49.5, 44.0, 0.49], [44.0, 41.0, 0.5],
  [23.0, 33.0, 0.52], [26.0, 36.0, 0.55], [25.0, 40.0, 0.5], [32.0, 40.0, 0.53], [36.0, 46.0, 0.52],
  [40.0, 50.0, 0.55], [46.0, 60.0, 0.52], [45.5, 39.5, 0.49], [47.5, 41.5, 0.49], [49.0, 42.0, 0.49],
  [51.5, 47.0, 0.49], [52.0, 49.5, 0.49], [54.5, 51.5, 0.49], [57.5, 53.0, 0.49], [60.5, 54.8, 0.49],
  [63.5, 56.0, 0.49], [66.0, 57.0, 0.49], [68.5, 57.5, 0.49],
];

const sigmaPts = [sigmaYellow, sigmaYellowGreen, sigmaGreen, sigmaTeal, sigmaBlue, sigmaPurple].flat();
const wrPts = [wrYellow, wrYellowGreen, wrGreen, wrTeal, wrBlue, wrPurple].flat();
const wthPts = [wthYellow, wthYellowGreen, wthGreen, wthTeal, wthBlue, wthPurple].flat();

// y = x reference lines (JS range drawn)
const sigmaDiag = [0.028, 26];
const wrDiag = [0.0029, 0.283];
const wthDiag = [1.56, 78];

const sigmaXMajor = [0.1, 1, 10];
const sigmaXMinor = [0.02, 0.03, 0.04, 0.05, 0.06, 0.07, 0.08, 0.09, 0.2, 0.3, 0.4, 0.5, 0.6, 0.7, 0.8, 0.9, 2, 3, 4, 5, 6, 7, 8, 9, 20, 30];
const sigmaYMajor = [0.1, 1, 10];
const sigmaYMinor = [0.03, 0.04, 0.05, 0.06, 0.07, 0.08, 0.09, 0.2, 0.3, 0.4, 0.5, 0.6, 0.7, 0.8, 0.9, 2, 3, 4, 5, 6, 7, 8, 9, 20, 30];
const wrMajor = [0.003, 0.01, 0.03, 0.1, 0.3];
const wrXMinor = [0.002, 0.004, 0.005, 0.006, 0.007, 0.008, 0.009, 0.02, 0.04, 0.05, 0.06, 0.07, 0.08, 0.09, 0.2];
const wrYMinor = [0.004, 0.005, 0.006, 0.007, 0.008, 0.009, 0.02, 0.04, 0.05, 0.06, 0.07, 0.08, 0.09, 0.2];
const wthMajor = [3, 10, 30];
const wthMinor = [2, 4, 5, 6, 7, 8, 9, 20, 40, 50, 60, 70, 80, 90];
const cbTicks = [0.5, 0.6, 0.7, 0.8, 0.9];
const cbData = [{ name: "r0/R", range: [C_MIN, C_MAX] }];

function XTick(props: any) {
  const { x, y, payload, majors } = props;
  const major = majors.includes(payload.value);
  return (
    <g>
      <line x1={x} y1={y} x2={x} y2={y + (major ? 4.5 : 2.5)} stroke={AXIS} strokeWidth={major ? 1 : 0.8} />
      {major && (
        <text x={x} y={y + 21.5} textAnchor="middle" fontSize={18} fill="#000" fontFamily={FONT}>
          {String(payload.value)}
        </text>
      )}
    </g>
  );
}

function YTick(props: any) {
  const { x, y, payload, majors } = props;
  const major = majors.includes(payload.value);
  return (
    <g>
      <line x1={x - (major ? 4.5 : 2.5)} y1={y} x2={x} y2={y} stroke={AXIS} strokeWidth={major ? 1 : 0.8} />
      {major && (
        <text x={x - 9} y={y + 6.3} textAnchor="end" fontSize={18} fill="#000" fontFamily={FONT}>
          {String(payload.value)}
        </text>
      )}
    </g>
  );
}

function CbTick(props: any) {
  const { x, y, payload } = props;
  return (
    <g>
      <line x1={x} y1={y} x2={x + 4.5} y2={y} stroke={AXIS} strokeWidth={1} />
      <text x={x + 8.7} y={y + 6.3} textAnchor="start" fontSize={18} fill="#000" fontFamily={FONT}>
        {String(payload.value)}
      </text>
    </g>
  );
}

function LogPanel(p: any) {
  const data = p.points.map(([x, y, c]: number[]) => ({ x, y, c }));
  const diag = p.diag.map((v: number) => ({ x: v, y: v }));
  return (
    <div style={{ position: "absolute", left: p.left, top: 0 }}>
      <ScatterChart
        width={p.width}
        height={448}
        margin={{ top: 31, right: p.marginRight, left: p.marginLeft, bottom: 11 }}
      >
        <XAxis
          type="number"
          dataKey="x"
          scale="log"
          domain={p.xDomain}
          allowDataOverflow
          ticks={[...p.xMinor, ...p.xMajor]}
          interval={0}
          tickSize={0}
          tickMargin={0}
          tickLine={false}
          axisLine={false}
          height={47}
          tick={(t: any) => <XTick {...t} majors={p.xMajor} />}
          label={{ value: "JS", position: "insideBottom", offset: 0, fontSize: 18, fill: "#000", fontFamily: FONT }}
        />
        <YAxis
          type="number"
          dataKey="y"
          scale="log"
          domain={p.yDomain}
          allowDataOverflow
          ticks={[...p.yMinor, ...p.yMajor]}
          interval={0}
          tickSize={0}
          tickMargin={0}
          tickLine={false}
          axisLine={false}
          width={p.yWidth}
          tick={(t: any) => <YTick {...t} majors={p.yMajor} />}
        />
        <ReferenceArea
          x1={p.xDomain[0]}
          x2={p.xDomain[1]}
          y1={p.yDomain[0]}
          y2={p.yDomain[1]}
          fill="none"
          fillOpacity={0}
          stroke={AXIS}
          strokeWidth={1}
        />
        <Scatter
          data={data}
          isAnimationActive={false}
          shape={(s: any) => (
            <circle cx={s.cx} cy={s.cy} r={1.8} fill={viridis(s.payload?.c ?? 0.5)} />
          )}
        />
        <Scatter
          data={diag}
          isAnimationActive={false}
          line={{ stroke: DIAG, strokeWidth: 1.5 }}
          shape={() => <g />}
        />
      </ScatterChart>
    </div>
  );
}

export default function App() {
  return (
    <div
      style={{
        position: "absolute",
        left: 0,
        top: 0,
        width: 1177,
        height: 448,
        background: "#fff",
        fontFamily: FONT,
      }}
    >
      <svg width={0} height={0} style={{ position: "absolute" }}>
        <defs>
          <linearGradient id="viridisBar" x1="0" y1="1" x2="0" y2="0">
            {VIRIDIS.map((col, i) => (
              <stop key={i} offset={i / (VIRIDIS.length - 1)} stopColor={col} />
            ))}
          </linearGradient>
        </defs>
      </svg>

      <LogPanel
        left={0}
        width={360}
        marginLeft={12}
        yWidth={60}
        marginRight={8}
        points={sigmaPts}
        diag={sigmaDiag}
        xDomain={[0.0168, 36.5]}
        yDomain={[0.0204, 33.9]}
        xMajor={sigmaXMajor}
        xMinor={sigmaXMinor}
        yMajor={sigmaYMajor}
        yMinor={sigmaYMinor}
      />
      <LogPanel
        left={370}
        width={350}
        marginLeft={6}
        yWidth={56}
        marginRight={9}
        points={wrPts}
        diag={wrDiag}
        xDomain={[0.00179, 0.356]}
        yDomain={[0.0023, 0.355]}
        xMajor={wrMajor}
        xMinor={wrXMinor}
        yMajor={wrMajor}
        yMinor={wrYMinor}
      />
      <LogPanel
        left={730}
        width={350}
        marginLeft={6}
        yWidth={56}
        marginRight={7}
        points={wthPts}
        diag={wthDiag}
        xDomain={[1.3, 94]}
        yDomain={[1.28, 93.3]}
        xMajor={wthMajor}
        xMinor={wthMinor}
        yMajor={wthMajor}
        yMinor={wthMinor}
      />

      <div style={{ position: "absolute", left: 1060, top: 0 }}>
        <BarChart
          width={117}
          height={448}
          data={cbData}
          margin={{ top: 31, right: 9, left: 31, bottom: 58 }}
          barCategoryGap={0}
          barGap={0}
        >
          <XAxis dataKey="name" hide />
          <YAxis
            orientation="right"
            type="number"
            domain={[C_MIN, C_MAX]}
            allowDataOverflow
            ticks={cbTicks}
            interval={0}
            tickSize={0}
            tickMargin={0}
            tickLine={false}
            axisLine={false}
            width={60}
            tick={(t: any) => <CbTick {...t} />}
          />
          <Bar dataKey="range" fill="url(#viridisBar)" stroke={AXIS} strokeWidth={1} isAnimationActive={false} />
        </BarChart>
      </div>

      <svg
        width={1177}
        height={448}
        style={{ position: "absolute", left: 0, top: 0, pointerEvents: "none" }}
        fontFamily={FONT}
      >
        <text x={214} y={25} textAnchor="middle" fontSize={21.6} fill="#000">
          <tspan fontStyle="italic">σ</tspan>/2<tspan fontStyle="italic">π</tspan> (nHz)
        </text>
        <text x={531} y={25} fontSize={21.6} fontStyle="italic" fill="#000">w</text>
        <text x={547} y={34} fontSize={14.5} fontStyle="italic" fill="#000">r</text>
        <text x={549} y={15} fontSize={14.5} fill="#000">(FWHM)</text>
        <text x={853} y={25} fontSize={21.6} fontStyle="italic" fill="#000">w</text>
        <text x={871} y={34} fontSize={14.5} fontStyle="italic" fill="#000">θ</text>
        <text x={872} y={15} fontSize={14.5} fill="#000">(FWHM)</text>
        <text x={944} y={25} fontSize={21.6} fill="#000">(deg.)</text>
        <text transform="translate(26.5,210.5) rotate(-90)" textAnchor="middle" fontSize={18} fill="#000">
          SGK
        </text>
        <text transform="translate(1166,211) rotate(-90)" textAnchor="middle" fontSize={18} fill="#000">
          <tspan fontStyle="italic">r</tspan>
          <tspan fontSize={13} dy={4}>0</tspan>
          <tspan dy={-4}>/</tspan>
          <tspan fontStyle="italic">R</tspan>
        </text>
      </svg>
    </div>
  );
}
